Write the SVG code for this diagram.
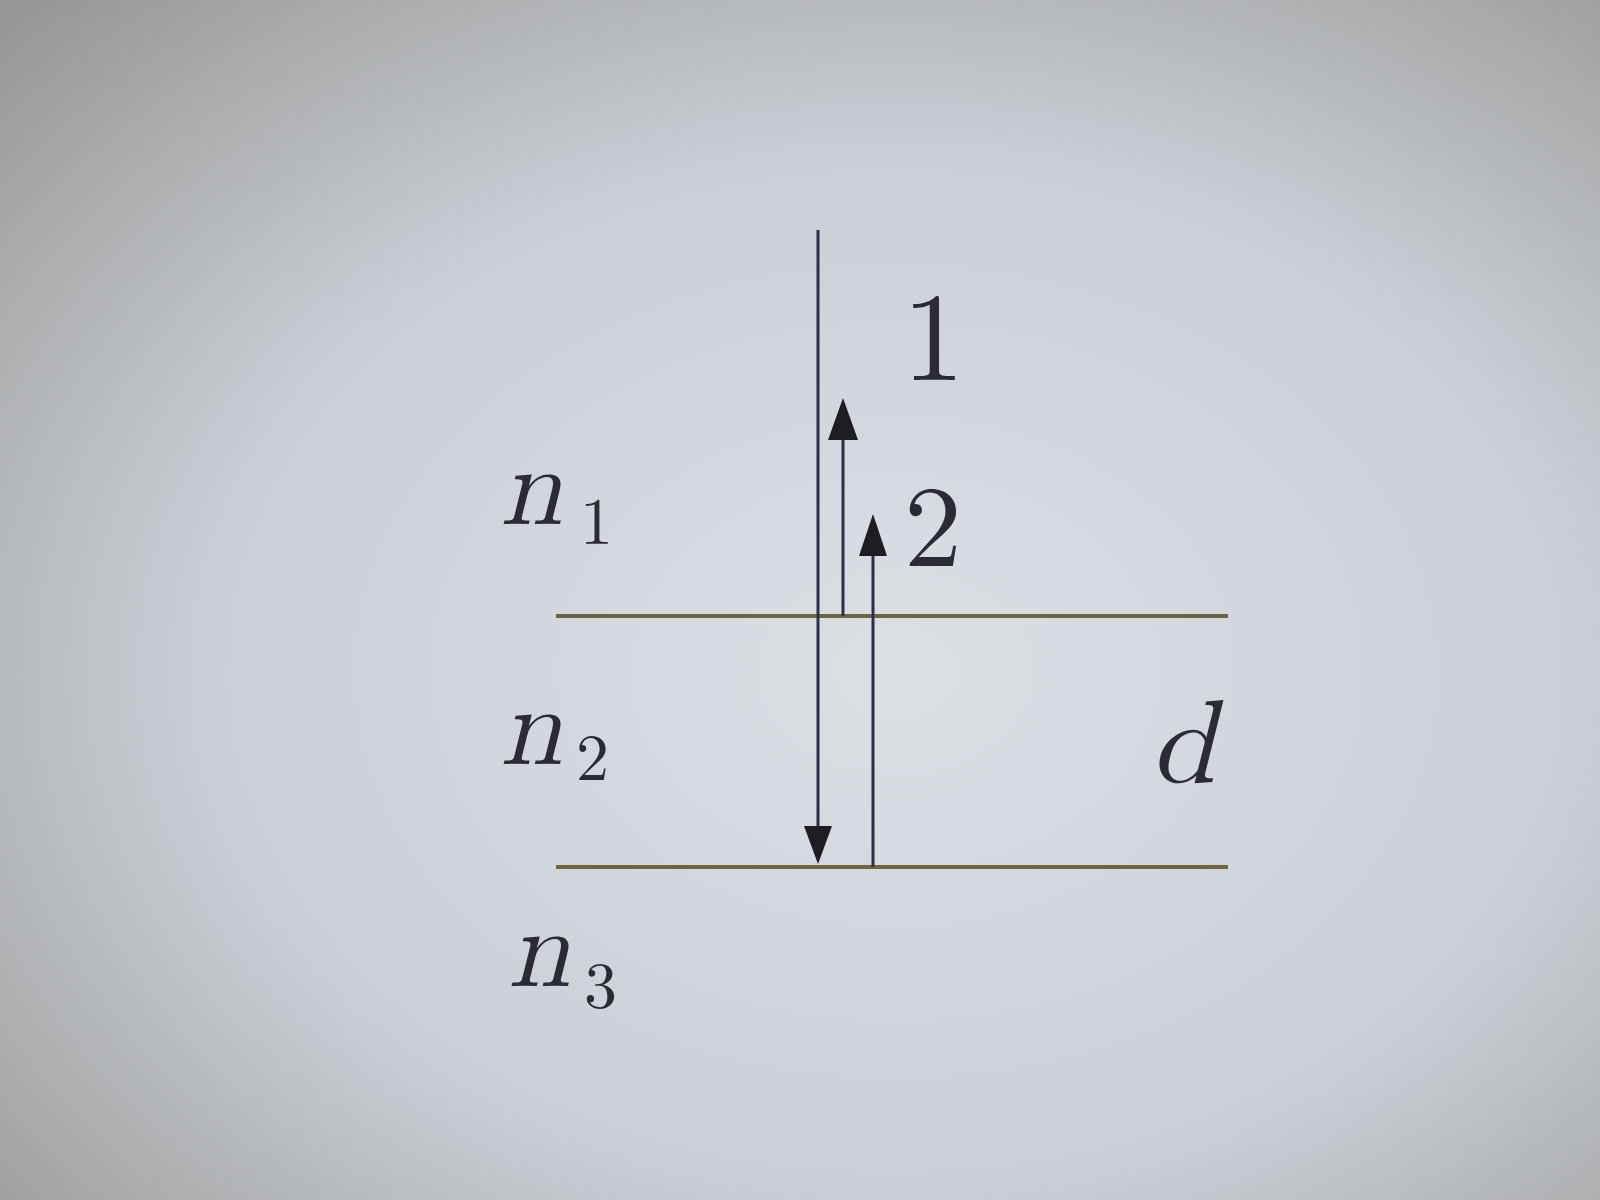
<svg xmlns="http://www.w3.org/2000/svg" width="1600" height="1200" viewBox="0 0 1600 1200">
<defs>
<radialGradient id="bg" cx="0.56" cy="0.56" r="0.78">
<stop offset="0" stop-color="#dcdfe4"/>
<stop offset="0.55" stop-color="#cbced5"/>
<stop offset="1" stop-color="#959794"/>
</radialGradient>
<style>
.ray{stroke:#2c2f48;stroke-width:3;fill:none}
.iface{stroke:#6e6444;stroke-width:4}
.head{fill:#1f1c24}
.lbl{font-family:"Latin Modern Math","DejaVu Serif","Liberation Serif",serif;fill:#2a2a38}
.it{font-style:italic}
</style>
</defs>
<rect width="1600" height="1200" fill="url(#bg)"/>
<g id="interfaces">
<line class="iface" x1="556" y1="616" x2="1228" y2="616"/>
<line class="iface" x1="556" y1="867" x2="1228" y2="867"/>
</g>
<g id="connectors">
<line class="ray" x1="818" y1="230" x2="818" y2="830"/>
<path class="head" d="M804,826 L832,826 L818,864 Z"/>
<line class="ray" x1="843" y1="616" x2="843" y2="436"/>
<path class="head" d="M828,440 L858,440 L843,398 Z"/>
<line class="ray" x1="873" y1="867" x2="873" y2="552"/>
<path class="head" d="M859,556 L887,556 L873,514 Z"/>
</g>
<g id="label-1"><text class="lbl" x="902" y="380" font-size="126">1</text></g>
<g id="label-2"><text class="lbl" x="904" y="566" font-size="116">2</text></g>
<g id="label-n1"><text class="lbl it" x="500" y="524" font-size="112">n</text><text class="lbl" x="580" y="544" font-size="66">1</text></g>
<g id="label-n2"><text class="lbl it" x="500" y="764" font-size="112">n</text><text class="lbl" x="576" y="780" font-size="66">2</text></g>
<g id="label-n3"><text class="lbl it" x="508" y="986" font-size="112">n</text><text class="lbl" x="584" y="1008" font-size="66">3</text></g>
<g id="label-d"><text class="lbl it" x="1150" y="782" font-size="118">d</text></g>
</svg>
